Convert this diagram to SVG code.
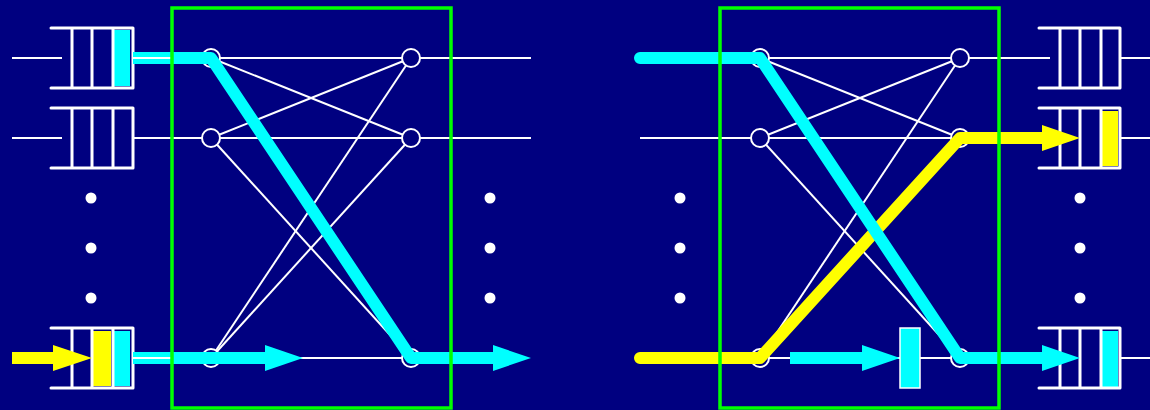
<svg xmlns="http://www.w3.org/2000/svg" width="1150" height="410" viewBox="0 0 1150 410">
<defs>
<style>
.thin{stroke:#ffffff;stroke-width:2;fill:none}
.node{fill:#000080;stroke:#ffffff;stroke-width:2}
.q{fill:none;stroke:#ffffff;stroke-width:3;stroke-linejoin:round;stroke-linecap:round}
.dot{fill:#ffffff}
.cy{fill:none;stroke:#00ffff;stroke-width:12;stroke-linejoin:round}
.ye{fill:none;stroke:#ffff00;stroke-width:12;stroke-linejoin:round}
.box{fill:none;stroke:#00ff00;stroke-width:3.5}
</style>
</defs>
<rect x="0" y="0" width="1150" height="410" fill="#000080"/>

<g id="connectors">
  <!-- left switch internal lines -->
  <g class="thin">
    <line x1="12" y1="58" x2="62" y2="58"/>
    <line x1="12" y1="138" x2="62" y2="138"/>
    <line x1="133" y1="138" x2="211" y2="138"/>
    <line x1="133" y1="358" x2="211" y2="358"/>
    <line x1="211" y1="58" x2="531" y2="58"/>
    <line x1="211" y1="138" x2="531" y2="138"/>
    <line x1="211" y1="358" x2="411" y2="358"/>
    <line x1="211" y1="58" x2="411" y2="138"/>
    <line x1="211" y1="138" x2="411" y2="58"/>
    <line x1="211" y1="138" x2="411" y2="358"/>
    <line x1="211" y1="358" x2="411" y2="58"/>
    <line x1="211" y1="358" x2="411" y2="138"/>
    <!-- right switch -->
    <line x1="640" y1="138" x2="760" y2="138"/>
    <line x1="760" y1="58" x2="1050" y2="58"/>
    <line x1="760" y1="138" x2="1050" y2="138"/>
    <line x1="760" y1="358" x2="1050" y2="358"/>
    <line x1="760" y1="58" x2="960" y2="138"/>
    <line x1="760" y1="138" x2="960" y2="58"/>
    <line x1="760" y1="138" x2="960" y2="358"/>
    <line x1="760" y1="358" x2="960" y2="58"/>
    <line x1="1120" y1="58" x2="1150" y2="58"/>
    <line x1="1120" y1="138" x2="1150" y2="138"/>
    <line x1="1120" y1="358" x2="1150" y2="358"/>
  </g>
</g>

<g id="nodes-left">
  <circle class="node" cx="211" cy="58" r="9"/>
  <circle class="node" cx="211" cy="138" r="9"/>
  <circle class="node" cx="211" cy="358" r="9"/>
  <circle class="node" cx="411" cy="58" r="9"/>
  <circle class="node" cx="411" cy="138" r="9"/>
  <circle class="node" cx="411" cy="358" r="9"/>
</g>
<g id="nodes-right">
  <circle class="node" cx="760" cy="58" r="9"/>
  <circle class="node" cx="760" cy="138" r="9"/>
  <circle class="node" cx="760" cy="358" r="9"/>
  <circle class="node" cx="960" cy="58" r="9"/>
  <circle class="node" cx="960" cy="138" r="9"/>
  <circle class="node" cx="960" cy="358" r="9"/>
</g>

<g id="queue-in-1">
  <rect x="113" y="30" width="17" height="56" fill="#00ffff"/>
  <path class="q" d="M51,28 H133 V88 H51 M72,28 V88 M92,28 V88 M113,28 V88"/>
</g>
<g id="queue-in-2">
  <path class="q" d="M51,108 H133 V168 H51 M72,108 V168 M92,108 V168 M113,108 V168"/>
</g>
<g id="queue-in-3">
  <rect x="93" y="331" width="18" height="55" fill="#ffff00"/>
  <rect x="113" y="331" width="17" height="55" fill="#00ffff"/>
  <path class="q" d="M51,328 H133 V388 H51 M72,328 V388 M92,328 V388 M113,328 V388"/>
</g>

<g id="queue-out-1">
  <path class="q" d="M1039,28 H1120 V88 H1039 M1060,28 V88 M1080,28 V88 M1101,28 V88"/>
</g>
<g id="queue-out-2">
  <rect x="1101" y="111" width="17" height="55" fill="#ffff00"/>
  <path class="q" d="M1039,108 H1120 V168 H1039 M1060,108 V168 M1080,108 V168 M1101,108 V168"/>
</g>
<g id="queue-out-3">
  <rect x="1101" y="331" width="17" height="56" fill="#00ffff"/>
  <path class="q" d="M1039,328 H1120 V388 H1039 M1060,328 V388 M1080,328 V388 M1101,328 V388"/>
</g>

<g id="dots">
  <circle class="dot" cx="91" cy="198" r="5.5"/>
  <circle class="dot" cx="91" cy="248" r="5.5"/>
  <circle class="dot" cx="91" cy="298" r="5.5"/>
  <circle class="dot" cx="490" cy="198" r="5.5"/>
  <circle class="dot" cx="490" cy="248" r="5.5"/>
  <circle class="dot" cx="490" cy="298" r="5.5"/>
  <circle class="dot" cx="680" cy="198" r="5.5"/>
  <circle class="dot" cx="680" cy="248" r="5.5"/>
  <circle class="dot" cx="680" cy="298" r="5.5"/>
  <circle class="dot" cx="1080" cy="198" r="5.5"/>
  <circle class="dot" cx="1080" cy="248" r="5.5"/>
  <circle class="dot" cx="1080" cy="298" r="5.5"/>
</g>

<g id="paths">
  <!-- left -->
  <path class="ye" d="M12,358 H55"/>
  <polygon points="53,345 92,358 53,371" fill="#ffff00"/>
  <path class="cy" d="M133,58 H211 L411,358 H495"/>
  <polygon points="493,345 531,358 493,371" fill="#00ffff"/>
  <path class="cy" d="M133,358 H267"/>
  <polygon points="265,345 303,358 265,371" fill="#00ffff"/>
  <!-- right -->
  <path class="ye" d="M640,358 H760 L960,138 H1044" stroke-linecap="round"/>
  <path class="ye" d="M1000,138 H1044"/>
  <polygon points="1042,125 1080,138 1042,151" fill="#ffff00"/>
  <path class="cy" d="M640,58 H760 L960,358 H1044" style="stroke-linecap:round"/>
  <polygon points="1042,345 1080,358 1042,371" fill="#00ffff"/>
  <path class="cy" d="M790,358 H864"/>
  <polygon points="862,345 900,358 862,371" fill="#00ffff"/>
  <rect x="900" y="328" width="20" height="60" fill="#00ffff" stroke="#ffffff" stroke-width="1.5"/>
  <!-- input lines over paths -->
  <line class="thin" x1="133" y1="58" x2="172" y2="58"/>
  <line class="thin" x1="133" y1="358" x2="172" y2="358"/>
</g>

<g id="switch-left">
  <rect class="box" x="172" y="8" width="279" height="400"/>
</g>
<g id="switch-right">
  <rect class="box" x="720" y="8" width="279" height="400"/>
</g>
</svg>
